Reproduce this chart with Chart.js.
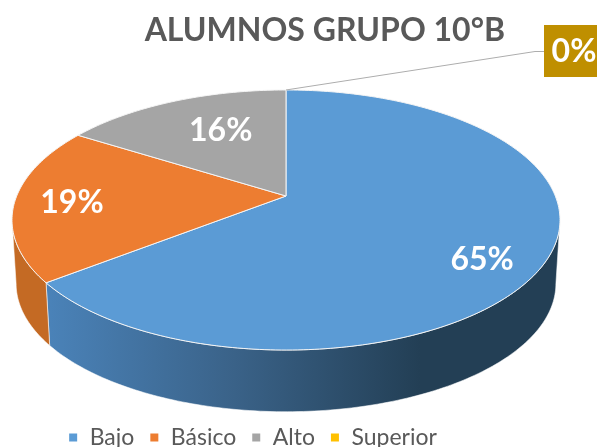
<!DOCTYPE html>
<html>
<head>
<meta charset="utf-8">
<title>Alumnos grupo 10B</title>
<script src="https://cdn.jsdelivr.net/npm/chart.js@4"></script>
<style>
  html, body { margin: 0; padding: 0; background: #fff; }
  canvas { display: block; }
</style>
</head>
<body>
<canvas id="myChart" width="597" height="447"></canvas>
<script>
const titleText = 'ALUMNOS GRUPO 10°B';
const categories = ['Bajo', 'Básico', 'Alto', 'Superior'];
// slice sizes, labels show them rounded
const values = [64.5, 19.4, 16.1, 0];
const colors = ['#5B9BD5', '#ED7D31', '#A5A5A5', '#FFC000'];

// how the flat pie is tilted on the page
const view = { cx: 286, cy: 196, a: 269.3, s: 125.6, k: 0.1846, depth: 64, shrink: 0.985 };
// label placement: fraction of radius, then nudge in px
const labelPos = [[0.75, 3, 20], [0.79, 0, 2], [0.75, 22, 8]];

function project(angle, r, wall) {
    const u = Math.cos(angle) * r;
    const v = Math.sin(angle) * r;
    const w = 1 - view.k * v;
    const f = wall ? view.shrink : 1;
    return {
        x: view.cx + view.a * (u / w) * f,
        y: view.cy + view.s * (v / w) * f + (wall ? view.depth : 0)
    };
}

function rim(ctx, from, to, wall) {
    const n = Math.max(2, Math.ceil(Math.abs(to - from) * 60));
    for (let i = 0; i <= n; i++) {
        const p = project(from + (to - from) * i / n, 1, wall);
        ctx.lineTo(p.x, p.y);
    }
}

const pie3d = {
    id: 'pie3d',
    beforeDatasetsDraw(chart) {
        const ctx = chart.ctx;
        const arcs = chart.getDatasetMeta(0).data;
        const frontFrom = Math.asin(view.k);
        const frontTo = Math.PI - frontFrom;

        // side wall, only the part facing the viewer
        arcs.forEach((arc, i) => {
            const from = Math.max(arc.startAngle, frontFrom);
            const to = Math.min(arc.endAngle, frontTo);
            if (to <= from) return;
            ctx.beginPath();
            rim(ctx, from, to, false);
            rim(ctx, to, from, true);
            ctx.closePath();
            if (i === 0) {
                const g = ctx.createLinearGradient(50, 0, 420, 0);
                g.addColorStop(0, '#4A82B8');
                g.addColorStop(0.5, '#3A6288');
                g.addColorStop(1, '#233F55');
                ctx.fillStyle = g;
            } else {
                ctx.fillStyle = '#C46A24';
            }
            ctx.fill();
            ctx.strokeStyle = 'rgba(255,255,255,0.55)';
            ctx.lineWidth = 1;
            ctx.stroke();
        });

        // top face
        arcs.forEach((arc, i) => {
            if (arc.endAngle <= arc.startAngle) return;
            ctx.beginPath();
            ctx.moveTo(view.cx, view.cy);
            rim(ctx, arc.startAngle, arc.endAngle, false);
            ctx.closePath();
            ctx.fillStyle = colors[i];
            ctx.fill();
            ctx.strokeStyle = '#F4F4F4';
            ctx.lineWidth = 1;
            ctx.stroke();
        });

        // percent labels
        ctx.font = 'bold 32px Lato';
        ctx.fillStyle = '#fff';
        ctx.textAlign = 'center';
        ctx.textBaseline = 'middle';
        labelPos.forEach((pos, i) => {
            const arc = arcs[i];
            const p = project((arc.startAngle + arc.endAngle) / 2, pos[0], false);
            ctx.fillText(Math.round(values[i]) + '%', p.x + pos[1], p.y + pos[2]);
        });

        // the empty slice gets a leader line and a box
        const last = arcs[3];
        const p = project(last.startAngle, 1, false);
        ctx.beginPath();
        ctx.moveTo(p.x, p.y);
        ctx.lineTo(535, 51.5);
        ctx.lineTo(544, 51.5);
        ctx.strokeStyle = '#ADADAD';
        ctx.lineWidth = 1;
        ctx.stroke();
        ctx.fillStyle = '#BF8F00';
        ctx.fillRect(544, 25, 53, 52);
        ctx.fillStyle = '#fff';
        ctx.fillText(values[3] + '%', 574, 52);

        return false;
    }
};

const chart = new Chart(document.getElementById('myChart').getContext('2d'), {
    type: 'pie',
    data: {
        labels: categories,
        datasets: [{
            data: values,
            backgroundColor: colors
        }]
    },
    options: {
        responsive: false,
        animation: false,
        layout: { padding: { top: 7, right: 92, bottom: -12 } },
        plugins: {
            title: {
                display: true,
                text: titleText,
                align: 'end',
                color: '#595959',
                font: { family: 'Lato', size: 32, weight: 'bold' },
                padding: { top: 4, bottom: 4 }
            },
            legend: {
                position: 'bottom',
                labels: {
                    color: '#595959',
                    font: { family: 'Lato', size: 23 },
                    boxWidth: 10,
                    boxHeight: 10,
                    padding: 15
                }
            },
            tooltip: { enabled: false }
        }
    },
    plugins: [pie3d]
});
</script>
</body>
</html>
